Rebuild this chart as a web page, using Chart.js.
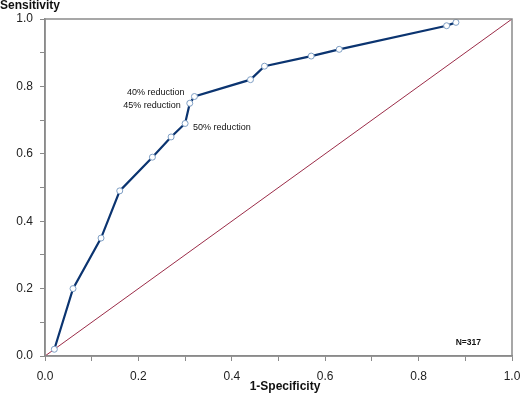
<!DOCTYPE html>
<html>
<head>
<meta charset="utf-8">
<script src="https://cdn.jsdelivr.net/npm/chart.js@4/dist/chart.umd.min.js"></script>
<style>
html,body{margin:0;padding:0;background:#fff;}
#wrap{width:520px;height:394px;position:relative;}
</style>
</head>
<body>
<div id="wrap"><canvas id="c" width="520" height="394"></canvas></div>
<script>
// 1-Specificity (false positive rate) of each cut-off
const fpr = [0.02, 0.06, 0.12, 0.16, 0.23, 0.27, 0.30, 0.31, 0.32, 0.44, 0.47, 0.57, 0.63, 0.86, 0.88];
// Sensitivity of each cut-off
const tpr = [0.02, 0.20, 0.35, 0.49, 0.59, 0.65, 0.69, 0.75, 0.77, 0.82, 0.86, 0.89, 0.91, 0.98, 0.99];
// Reference (chance) line
const refX = [0, 1];
const refY = [0, 1];
// Annotated points
const annotIndex = [8, 7, 6];
const annotText = ["40% reduction", "45% reduction", "50% reduction"];
const sampleText = "N=317";
const xTitle = "1-Specificity";
const yTitle = "Sensitivity";

const FONT = "'Liberation Sans', Arial, Helvetica, sans-serif";

const rocPts = fpr.map((x, i) => ({x: x, y: tpr[i]}));
const refPts = refX.map((x, i) => ({x: x, y: refY[i]}));

const annot = {
  id: 'annot',
  afterDraw(chart) {
    const ctx = chart.ctx;
    const a = chart.chartArea;
    const xs = chart.scales.x, ys = chart.scales.y;
    ctx.save();
    // frame box
    ctx.strokeStyle = '#8a8a8a';
    ctx.lineWidth = 1.5;
    ctx.strokeRect(a.left, a.top, a.right - a.left, a.bottom - a.top);
    // point annotations
    ctx.fillStyle = '#111';
    ctx.font = '9px ' + FONT;
    ctx.textBaseline = 'middle';
    const offs = [[-10, -4, 'right'], [-9, 2, 'right'], [8, 4, 'left']];
    annotIndex.forEach((idx, k) => {
      const px = xs.getPixelForValue(fpr[idx]);
      const py = ys.getPixelForValue(tpr[idx]);
      ctx.textAlign = offs[k][2];
      ctx.fillText(annotText[k], px + offs[k][0], py + offs[k][1]);
    });
    // N label
    ctx.font = 'bold 8.5px ' + FONT;
    ctx.textAlign = 'right';
    ctx.fillText(sampleText, a.right - 31, a.bottom - 13);
    // axis titles
    ctx.font = 'bold 12px ' + FONT;
    ctx.textAlign = 'center';
    ctx.fillText(xTitle, 285, 387);
    ctx.textAlign = 'left';
    ctx.fillText(yTitle, 0, 6);
    ctx.restore();
  }
};

new Chart(document.getElementById('c'), {
  type: 'scatter',
  data: {
    datasets: [
      {
        label: 'Chance',
        data: refPts,
        showLine: true,
        borderColor: '#9b2c48',
        borderWidth: 1,
        pointRadius: 0,
        tension: 0,
        order: 2
      },
      {
        label: 'ROC',
        data: rocPts,
        showLine: true,
        borderColor: '#0b3470',
        borderWidth: 2.2,
        pointRadius: 3,
        pointBackgroundColor: '#ffffff',
        pointBorderColor: '#7f9fc4',
        pointBorderWidth: 1,
        tension: 0,
        order: 1
      }
    ]
  },
  options: {
    responsive: false,
    animation: false,
    events: [],
    layout: { padding: { top: 19, right: 0, left: 0, bottom: 0 } },
    plugins: { legend: { display: false }, tooltip: { enabled: false } },
    scales: {
      x: {
        type: 'linear', min: 0, max: 1,
        afterFit(s) { s.height = 38; s.paddingRight = 8; },
        border: { display: true, color: '#8a8a8a', width: 1.5 },
        grid: { drawOnChartArea: false, drawTicks: true, tickLength: 5, color: '#8a8a8a', lineWidth: 1 },
        ticks: {
          stepSize: 0.1, autoSkip: false, maxRotation: 0, padding: 8,
          color: '#222', font: { family: FONT, size: 12 },
          callback: (v) => { const n = Math.round(v * 10); return n % 2 === 0 ? (n / 10).toFixed(1) : ''; }
        }
      },
      y: {
        type: 'linear', min: 0, max: 1,
        afterFit(s) { s.width = 45; },
        border: { display: true, color: '#8a8a8a', width: 1.5 },
        grid: { drawOnChartArea: false, drawTicks: true, tickLength: 5, color: '#8a8a8a', lineWidth: 1 },
        ticks: {
          stepSize: 0.1, autoSkip: false, padding: 7,
          color: '#222', font: { family: FONT, size: 12 },
          callback: (v) => { const n = Math.round(v * 10); return n % 2 === 0 ? (n / 10).toFixed(1) : ''; }
        }
      }
    }
  },
  plugins: [annot]
});
</script>
</body>
</html>
